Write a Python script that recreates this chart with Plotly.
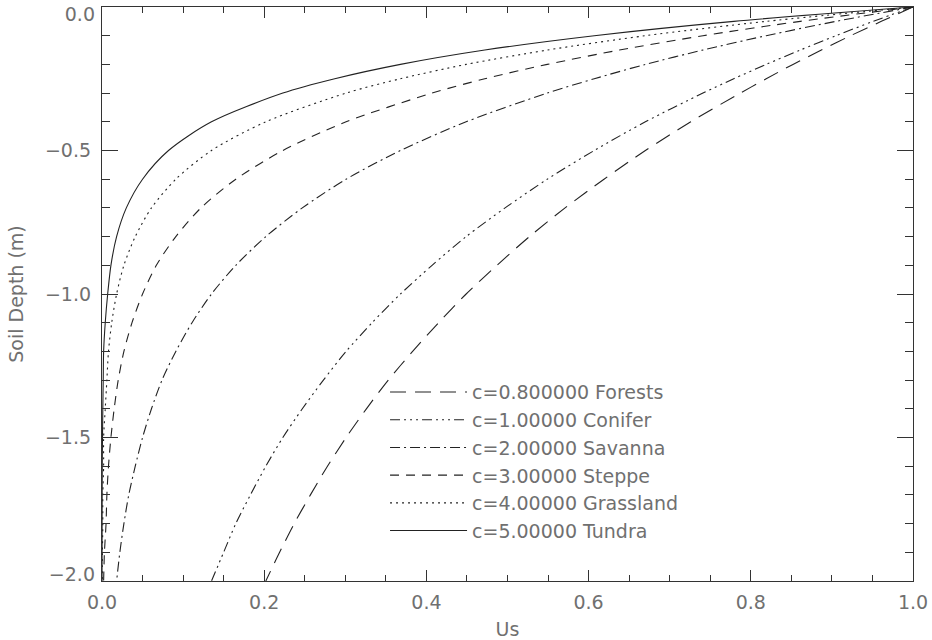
import plotly.graph_objects as go

# Soil depth (m)
depth = [0.0, -0.05, -0.1, -0.15, -0.2, -0.25, -0.3, -0.4, -0.5, -0.6, -0.7, -0.8,
         -0.9, -1.0, -1.1, -1.2, -1.3, -1.4, -1.5, -1.6, -1.7, -1.8, -1.9, -2.0]

# Us values
us_forests = [1.000, 0.961, 0.923, 0.887, 0.852, 0.819, 0.787, 0.726, 0.670, 0.619, 0.571, 0.527,
              0.487, 0.449, 0.415, 0.383, 0.353, 0.326, 0.301, 0.278, 0.257, 0.237, 0.219, 0.202]
us_conifer = [1.000, 0.951, 0.905, 0.861, 0.819, 0.779, 0.741, 0.670, 0.607, 0.549, 0.497, 0.449,
              0.407, 0.368, 0.333, 0.301, 0.273, 0.247, 0.223, 0.202, 0.183, 0.165, 0.150, 0.135]
us_savanna = [1.000, 0.905, 0.819, 0.741, 0.670, 0.607, 0.549, 0.449, 0.368, 0.301, 0.247, 0.202,
              0.165, 0.135, 0.111, 0.091, 0.074, 0.061, 0.050, 0.041, 0.033, 0.027, 0.022, 0.018]
us_steppe = [1.000, 0.861, 0.741, 0.638, 0.549, 0.472, 0.407, 0.301, 0.223, 0.165, 0.122, 0.091,
             0.067, 0.050, 0.037, 0.027, 0.020, 0.015, 0.011, 0.008, 0.006, 0.005, 0.003, 0.002]
us_grassland = [1.000, 0.819, 0.670, 0.549, 0.449, 0.368, 0.301, 0.202, 0.135, 0.091, 0.061, 0.041,
                0.027, 0.018, 0.012, 0.008, 0.006, 0.004, 0.002, 0.002, 0.001, 0.001, 0.0005, 0.0003]
us_tundra = [1.000, 0.779, 0.607, 0.472, 0.368, 0.287, 0.223, 0.135, 0.082, 0.050, 0.030, 0.018,
             0.011, 0.007, 0.004, 0.002, 0.0015, 0.001, 0.0006, 0.0003, 0.0002, 0.0001, 0.0001, 0.00005]

series_names = ["c=0.800000 Forests", "c=1.00000 Conifer", "c=2.00000 Savanna",
                "c=3.00000 Steppe", "c=4.00000 Grassland", "c=5.00000 Tundra"]
series_values = [us_forests, us_conifer, us_savanna, us_steppe, us_grassland, us_tundra]

# Tick labels
y_mid_tickvals = [-1.5, -1.0, -0.5]
y_mid_ticktext = ["\u22121.5", "\u22121.0", "\u22120.5"]
y_top_tickvals = [0.0]
y_top_ticktext = ["0.0"]
y_bot_tickvals = [-2.0]
y_bot_ticktext = ["\u22122.0"]

dash_styles = ["16px,9px", "10px,4px,2px,4px,2px,4px,2px,4px", "10px,4px,2px,4px",
               "9px,7px", "2px,4px", "solid"]

FONT = "DejaVu Sans"
TXT = "#707070"
LINE = "#222222"
AX = "#333333"
FS = 19

fig = go.Figure()
for i, (name, vals, dash) in enumerate(zip(series_names, series_values, dash_styles)):
    fig.add_trace(go.Scatter(
        x=vals, y=depth, mode="lines", name=name, legendgroup=f"g{i}",
        line=dict(color=LINE, width=1.1, dash=dash, shape="spline", smoothing=0.8),
    ))

# invisible copies so that the mirrored / extra-label axes get drawn
for xa, ya in [("x2", "y2"), ("x", "y3"), ("x", "y4")]:
    fig.add_trace(go.Scatter(
        x=us_tundra, y=depth, xaxis=xa, yaxis=ya, mode="lines", showlegend=False,
        hoverinfo="skip", line=dict(color="rgba(0,0,0,0)", width=0),
    ))

base = dict(showgrid=False, zeroline=False, automargin=False, ticklabeloverflow="allow")
framed = dict(base, showline=True, linecolor=AX, linewidth=1.2, ticks="inside",
              tickcolor=AX, tickwidth=1.1)

fig.update_layout(
    width=932, height=640,
    margin=dict(l=102, r=19, t=7, b=59),
    paper_bgcolor="white", plot_bgcolor="white",
    font=dict(family=FONT, size=FS, color=TXT),
    showlegend=True,
    legend=dict(x=0.349, y=0.362, xanchor="left", yanchor="top",
                bgcolor="rgba(0,0,0,0)", itemwidth=77, tracegroupgap=0,
                traceorder="grouped", font=dict(family=FONT, size=FS, color=TXT)),
    xaxis=dict(range=[0, 1], dtick=0.2, tick0=0, tickformat=".1f", ticklen=11,
               minor=dict(dtick=0.05, ticklen=6, ticks="inside", tickcolor=AX),
               ticklabelstandoff=4,
               title=dict(text="Us", font=dict(family=FONT, size=FS, color=TXT), standoff=10),
               mirror=True, **framed),
    yaxis=dict(range=[-2, 0], tickmode="array", tickvals=[-2.0] + y_mid_tickvals + [0.0],
               ticktext=[""] + y_mid_ticktext + [""], ticklen=16,
               minor=dict(dtick=0.1, tick0=0, ticklen=8, ticks="inside", tickcolor=AX),
               ticklabelstandoff=6,
               title=dict(text="Soil Depth (m)", font=dict(family=FONT, size=FS, color=TXT), standoff=16),
               mirror=True, **framed),
    xaxis2=dict(range=[0, 1], matches="x", overlaying="x", side="top", dtick=0.2, tick0=0,
                showticklabels=False, ticklen=11,
                minor=dict(dtick=0.05, ticklen=6, ticks="inside", tickcolor=AX),
                **framed),
    yaxis2=dict(range=[-2, 0], matches="y", overlaying="y", side="right", dtick=0.5, tick0=0,
                showticklabels=False, ticklen=16,
                minor=dict(dtick=0.1, ticklen=8, ticks="inside", tickcolor=AX),
                **framed),
    yaxis3=dict(range=[-2, 0], matches="y", overlaying="y", side="left", showline=False,
                ticks="", tickmode="array", tickvals=y_top_tickvals, ticktext=y_top_ticktext,
                ticklabelposition="outside bottom", ticklabelstandoff=6, ticklabelshift=-6,
                **base),
    yaxis4=dict(range=[-2, 0], matches="y", overlaying="y", side="left", showline=False,
                ticks="", tickmode="array", tickvals=y_bot_tickvals, ticktext=y_bot_ticktext,
                ticklabelposition="outside top", ticklabelstandoff=6, ticklabelshift=7,
                **base),
)

fig.write_html(
    "out.html",
    config={"displayModeBar": False},
    post_script="document.body.style.margin='0';document.body.style.overflow='hidden';",
)
